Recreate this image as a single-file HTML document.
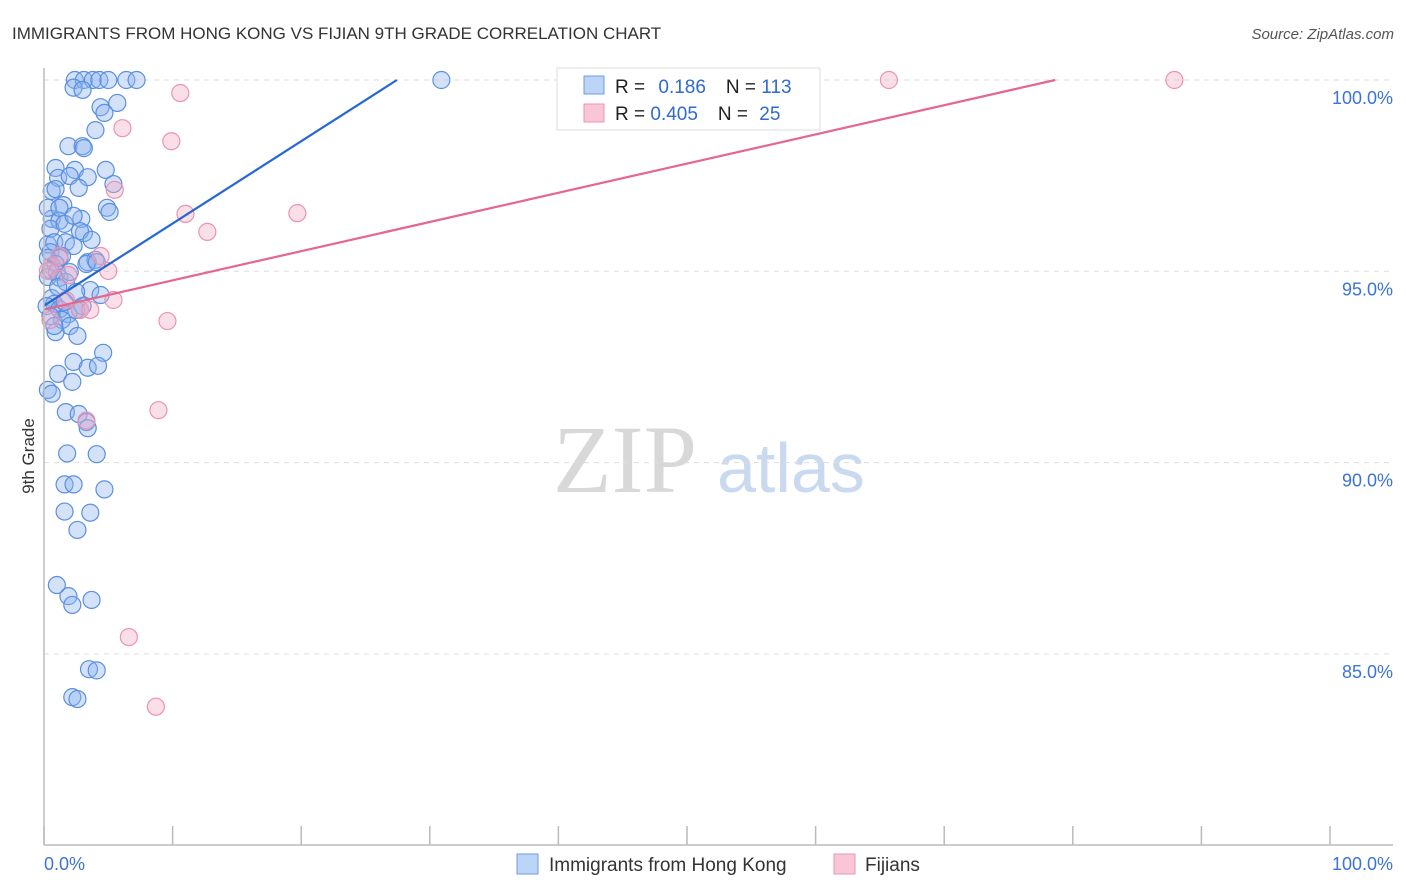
<!DOCTYPE html>
<html><head><meta charset="utf-8"><style>
body{margin:0;background:#fff;font-family:"Liberation Sans",sans-serif;}
#wrap{position:relative;width:1406px;height:892px;overflow:hidden;}
svg{position:absolute;left:0;top:0;}
</style></head><body>
<div id="wrap">
<svg id="svg" width="1406" height="892" xmlns="http://www.w3.org/2000/svg">
<text x="12" y="39" font-size="17" fill="#333">IMMIGRANTS FROM HONG KONG VS FIJIAN 9TH GRADE CORRELATION CHART</text>
<text x="1394" y="39" font-size="15" fill="#555" text-anchor="end" font-style="italic">Source: ZipAtlas.com</text>
<text x="34" y="456" font-size="17" fill="#333" text-anchor="middle" transform="rotate(-90 34 456)">9th Grade</text>
<g>
<text x="553" y="492" font-size="96" fill="#d8d8d8" font-family="Liberation Serif,serif">ZIP</text>
<text x="717" y="492" font-size="70" fill="#c9d9f0">atlas</text>
</g>
<g id="grid"></g><g id="pts"></g><g id="lines"></g>
<line x1="44" y1="68" x2="44" y2="845" stroke="#bbb" stroke-width="1.5"/>
<line x1="44" y1="845" x2="1393" y2="845" stroke="#bbb" stroke-width="1.5"/>
<text x="44" y="870" font-size="18" fill="#3b73d6">0.0%</text>
<text x="1393" y="870" font-size="18" fill="#3b73d6" text-anchor="end">100.0%</text>
<g>
<rect x="557" y="68" width="263" height="62" fill="#fff" stroke="#ddd"/>
<rect x="584" y="76" width="20" height="18" fill="#bcd4f5" stroke="#6c9de4"/>
<rect x="584" y="104" width="20" height="18" fill="#f8c6d6" stroke="#eb93b0"/>
<text x="615" y="93" font-size="19" fill="#222">R =  <tspan fill="#2e6ad0" dx="8">0.186</tspan><tspan dx="20" fill="#222">N = </tspan><tspan fill="#2e6ad0">113</tspan></text>
<text x="615" y="120" font-size="19" fill="#222">R = <tspan fill="#2e6ad0">0.405</tspan><tspan dx="20" fill="#222">N = </tspan><tspan fill="#2e6ad0" dx="6">25</tspan></text>
</g>
<g>
<rect x="517" y="854" width="21" height="20" fill="#bcd4f5" stroke="#6c9de4"/>
<text x="549" y="871" font-size="19" fill="#333">Immigrants from Hong Kong</text>
<rect x="834" y="854" width="21" height="20" fill="#f8c6d6" stroke="#eb93b0"/>
<text x="865" y="871" font-size="19" fill="#333">Fijians</text>
</g>
</svg></div>
<script>
const yTicks=[100,95,90,85];
const yTickLabels=["100.0%","95.0%","90.0%","85.0%"];
const xTicks=[0,10,20,30,40,50,60,70,80,90,100];
const blueX=[2.4,3.1,3.8,4.3,5,6.4,7.2,2.3,3,4.4,5.7,4.7,4,1.9,3,3.1,0.9,2.4,4.8,1.1,2,3.4,5.4,2.7,0.6,4.9,5.1,1.5,0.6,1.2,2.9,0.5,3.1,2.8,0.3,0.8,1.7,3.7,2.3,0.5,1.4,0.3,1.2,0.9,3.4,4,3.3,0.5,1,0.3,1.2,1.7,3.6,4.4,2.5,0.6,0.8,0.2,1.2,2.5,3,1.9,1.4,2,0.9,2.6,4.6,2.3,3.4,4.2,1.1,2.2,0.3,0.6,1.7,2.7,3.3,3.4,1.8,4.1,1.6,2.3,4.7,1.6,3.6,2.6,1,1.9,2.2,3.7,3.5,4.1,2.2,2.6,30.9,4.1,2.8,1.6,1.1,2,0.5,0.8,1.6,0.3,2.3,0.9,1.2];
const blueY=[100,100,100,100,100,100,100,99.8,99.74,99.29,99.4,99.14,98.69,98.27,98.27,98.22,97.7,97.65,97.65,97.44,97.49,97.46,97.28,97.18,97.1,96.66,96.55,96.73,96.37,96.32,96.37,96.11,96,96.05,95.7,95.76,95.76,95.82,95.66,95.5,95.4,95.35,95.35,95.19,95.24,95.3,95.19,95.03,94.98,94.85,94.83,94.72,94.51,94.38,94.46,94.3,94.15,94.09,94.01,93.99,94.09,93.88,93.73,93.57,93.41,93.31,92.87,92.63,92.48,92.53,92.32,92.11,91.9,91.8,91.32,91.27,91.06,90.9,90.24,90.22,89.43,89.43,89.3,88.72,88.69,88.24,86.8,86.51,86.28,86.41,84.6,84.57,83.87,83.82,100,95.24,93.99,94.2,94.59,94.98,93.83,93.57,96.24,96.66,96.45,97.15,96.66];
const pinkX=[65.7,87.9,10.6,6.1,9.9,5.5,11,19.7,12.7,4.4,5,5.4,9.6,8.9,3.3,6.6,8.7,0.5,1.9,1.2,0.6,1.7,0.3,2.8,3.6];
const pinkY=[100,100,99.66,98.74,98.4,97.13,96.5,96.52,96.03,95.4,95.01,94.25,93.7,91.37,91.1,85.44,83.62,93.73,94.9,95.4,95.14,94.25,95.01,93.99,93.99];
const blueFit=[94.1,0.215];
const pinkFit=[94.0,0.0763];
const NS="http://www.w3.org/2000/svg";
const X=v=>44+v*12.86;
const Y=v=>80+(100-v)*38.26;
function mk(t,a,p){const e=document.createElementNS(NS,t);for(const k in a)e.setAttribute(k,a[k]);p.appendChild(e);return e;}
const grid=document.getElementById('grid'),pts=document.getElementById('pts'),lines=document.getElementById('lines');
yTicks.forEach((v,i)=>{
 const l=mk('line',{x1:44,x2:1393,y1:Y(v),y2:Y(v),stroke:'#ddd','stroke-dasharray':'5,5'},grid);
 
 
 const t=mk('text',{x:1393,y:Y(v)+24,'font-size':18,fill:'#3b73d6','text-anchor':'end'},grid);
 t.textContent=yTickLabels[i];
 
 
});
xTicks.forEach(v=>{
 const l=mk('line',{x1:X(v),x2:X(v),y1:826,y2:845,stroke:'#bbb','stroke-width':1.5},grid);
 
 
});
blueX.forEach((v,i)=>{
 const c=mk('circle',{cx:X(v),cy:Y(blueY[i]),r:8.5,fill:'rgba(140,180,238,0.38)',stroke:'#5b8fdf','stroke-width':1.2},pts);
 
 
});
pinkX.forEach((v,i)=>{
 const c=mk('circle',{cx:X(v),cy:Y(pinkY[i]),r:8.5,fill:'rgba(245,170,195,0.38)',stroke:'#eb93b0','stroke-width':1.2},pts);
 
 
});
function fit(f,col,name){
 const xe=Math.min(100,(100-f[0])/f[1]);
 const l=mk('line',{x1:X(0),y1:Y(f[0]),x2:X(xe),y2:Y(f[0]+f[1]*xe),stroke:col,'stroke-width':2.2},lines);
 
 
}
fit(blueFit,'#2468d4','trendline-hongkong');
fit(pinkFit,'#e5668f','trendline-fijian');
</script>
</body></html>
